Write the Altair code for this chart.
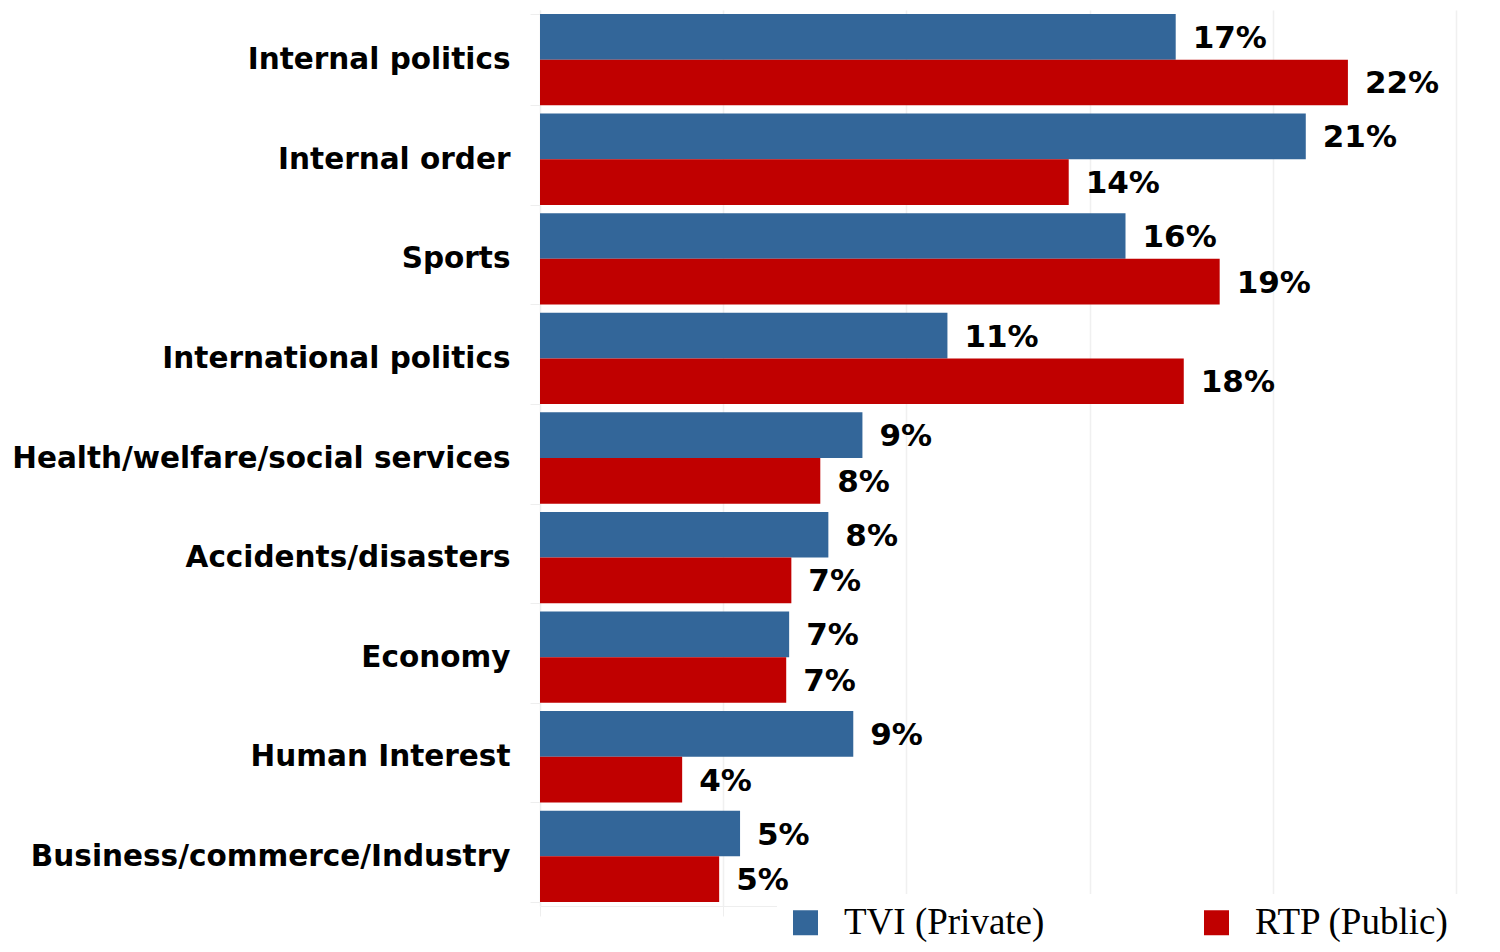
import altair as alt
import pandas as pd

categories = [
    "Internal politics",
    "Internal order",
    "Sports",
    "International politics",
    "Health/welfare/social services",
    "Accidents/disasters",
    "Economy",
    "Human Interest",
    "Business/commerce/Industry",
]
series = ["TVI (Private)", "RTP (Public)"]
tvi_values = [17.35, 20.9, 15.98, 11.12, 8.80, 7.87, 6.80, 8.55, 5.46]
rtp_values = [22.05, 14.43, 18.55, 17.57, 7.65, 6.86, 6.72, 3.88, 4.89]
tvi_labels = ["17%", "21%", "16%", "11%", "9%", "8%", "7%", "9%", "5%"]
rtp_labels = ["22%", "14%", "19%", "18%", "8%", "7%", "7%", "4%", "5%"]
colors = ["#336699", "#C00000"]

rows = []
for c, v, l in zip(categories, tvi_values, tvi_labels):
    rows.append({"category": c, "series": series[0], "value": v, "label": l})
for c, v, l in zip(categories, rtp_values, rtp_labels):
    rows.append({"category": c, "series": series[1], "value": v, "label": l})
df = pd.DataFrame(rows)

y_enc = alt.Y(
    "category:N",
    sort=categories,
    scale=alt.Scale(paddingInner=0.083, paddingOuter=0.04),
    axis=alt.Axis(
        title=None,
        grid=False,
        labelFont="DejaVu Sans",
        labelFontWeight="bold",
        labelFontSize=29.5,
        labelColor="#000000",
        labelPadding=20,
        labelLimit=700,
        tickSize=10,
        tickBand="extent",
        tickColor="#eeeeee",
        domainColor="#eeeeee",
    ),
)
yoff = alt.YOffset("series:N", sort=series, scale=alt.Scale(paddingInner=0, paddingOuter=0))
x_enc = alt.X(
    "value:Q",
    scale=alt.Scale(domain=[0, 25], nice=False),
    axis=alt.Axis(
        title=None,
        labels=False,
        ticks=True,
        tickSize=10,
        tickColor="#eeeeee",
        domain=True,
        domainColor="#eeeeee",
        values=[0, 5, 10, 15, 20, 25],
        grid=True,
        gridColor="#f0f0f0",
        gridWidth=1.5,
    ),
)

bars = alt.Chart(df).mark_bar().encode(
    y=y_enc,
    yOffset=yoff,
    x=x_enc,
    color=alt.Color(
        "series:N",
        sort=series,
        scale=alt.Scale(domain=series, range=colors),
        legend=alt.Legend(
            title=None,
            orient="none",
            legendX=237,
            legendY=884,
            direction="horizontal",
            symbolType="square",
            symbolSize=625,
            symbolStrokeWidth=0,
            labelFont="Liberation Serif",
            labelFontSize=37,
            labelColor="#000000",
            labelOffset=20,
            columnPadding=153,
            labelLimit=400,
            padding=10,
            fillColor="white",
        ),
    ),
)

text = alt.Chart(df).mark_text(
    align="left",
    baseline="middle",
    dx=17,
    dy=2,
    font="DejaVu Sans",
    fontWeight="bold",
    fontSize=31,
    color="#000000",
).encode(
    y=alt.Y("category:N", sort=categories),
    yOffset=alt.YOffset("series:N", sort=series),
    x=alt.X("value:Q"),
    text="label:N",
)

chart = (
    alt.layer(bars, text)
    .properties(
        width=916,
        height=896,
        autosize=alt.AutoSizeParams(type="none"),
        padding={"left": 532, "top": 2, "right": 36, "bottom": 38},
    )
    .configure(background="white")
    .configure_view(strokeWidth=0, stroke="transparent")
)

chart.save("out.html", embed_options={"renderer": "svg", "actions": False})
